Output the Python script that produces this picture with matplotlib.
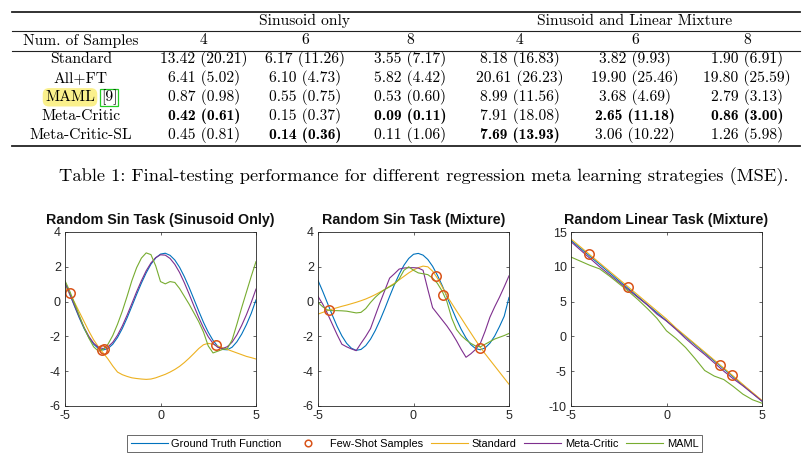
import numpy as np
import matplotlib.pyplot as plt
from matplotlib.lines import Line2D

W, H = 810, 461

plt.rcParams['axes.unicode_minus'] = False

# ---- table data ----
group_names = ["Sinusoid only", "Sinusoid and Linear Mixture"]
num_samples = ["4", "6", "8", "4", "6", "8"]
methods = ["Standard", "All+FT", "MAML", "Meta-Critic", "Meta-Critic-SL"]
mse_mean = [
    [13.42, 6.17, 3.55, 8.18, 3.82, 1.90],
    [6.41, 6.10, 5.82, 20.61, 19.90, 19.80],
    [0.87, 0.55, 0.53, 8.99, 3.68, 2.79],
    [0.42, 0.15, 0.09, 7.91, 2.65, 0.86],
    [0.45, 0.14, 0.11, 7.69, 3.06, 1.26],
]
mse_std = [
    [20.21, 11.26, 7.17, 16.83, 9.93, 6.91],
    [5.02, 4.73, 4.42, 26.23, 25.46, 25.59],
    [0.98, 0.75, 0.60, 11.56, 4.69, 3.13],
    [0.61, 0.37, 0.11, 18.08, 11.18, 3.00],
    [0.81, 0.36, 1.06, 13.93, 10.22, 5.98],
]
# (row, col) of the best result in each column
best_cells = [(3, 0), (4, 1), (3, 2), (4, 3), (3, 4), (3, 5)]
caption = "Table 1: Final-testing performance for different regression meta learning strategies (MSE)."

# ---- curve data ----
x_sin = np.linspace(-5, 5, 41)
x_lin = np.linspace(-5, 5, 21)

# panel 1: random sin task (sinusoid only)
p1_truth = [1.06, 0.41, -0.27, -0.94, -1.55, -2.06, -2.45, -2.70, -2.78, -2.70,
            -2.45, -2.06, -1.55, -0.94, -0.27, 0.41, 1.06, 1.65, 2.15, 2.51,
            2.73, 2.78, 2.66, 2.39, 1.97, 1.43, 0.81, 0.14, -0.54, -1.19,
            -1.76, -2.23, -2.57, -2.75, -2.77, -2.62, -2.31, -1.87, -1.32, -0.68,
            0.10]
p1_standard = [0.85, 0.45, -0.05, -0.60, -1.15, -1.70, -2.20, -2.60, -2.95, -3.30,
               -3.70, -4.05, -4.20, -4.30, -4.38, -4.42, -4.45, -4.47, -4.45, -4.38,
               -4.28, -4.18, -4.05, -3.90, -3.72, -3.50, -3.25, -2.98, -2.70, -2.48,
               -2.40, -2.45, -2.55, -2.65, -2.75, -2.85, -2.95, -3.05, -3.15, -3.22,
               -3.30]
p1_critic = [1.11, 0.46, -0.22, -0.88, -1.49, -2.00, -2.39, -2.63, -2.70, -2.60,
             -2.34, -1.93, -1.40, -0.78, -0.11, 0.57, 1.20, 1.77, 2.22, 2.53,
             2.69, 2.67, 2.48, 2.14, 1.67, 1.08, 0.43, -0.25, -0.91, -1.51,
             -2.02, -2.40, -2.63, -2.70, -2.59, -2.33, -1.91, -1.37, -0.75, -0.05,
             0.72]
p1_maml = [1.20, 0.60, -0.10, -0.80, -1.50, -2.10, -2.60, -2.85, -2.75, -2.45,
           -1.95, -1.30, -0.55, 0.30, 1.20, 1.95, 2.50, 2.80, 2.70, 2.05,
           1.15, 1.02, 1.15, 1.10, 0.75, 0.30, -0.15, -0.65, -1.15, -1.75,
           -2.55, -2.95, -2.85, -2.75, -2.70, -2.20, -1.30, -0.35, 0.55, 1.45,
           2.30]
p1_samples_x = [-4.75, -3.05, -2.95, 2.92]
p1_samples_y = [0.52, -2.78, -2.72, -2.50]

# panel 2: random sin task (mixture)
p2_truth = [1.22, 0.58, -0.10, -0.78, -1.42, -1.97, -2.40, -2.68, -2.80, -2.75,
            -2.53, -2.16, -1.66, -1.06, -0.40, 0.30, 0.97, 1.57, 2.09, 2.48,
            2.72, 2.77, 2.67, 2.42, 2.03, 1.52, 0.93, 0.28, -0.38, -1.02,
            -1.60, -2.09, -2.47, -2.70, -2.77, -2.66, -2.39, -1.98, -1.44, -0.84,
            0.24]
p2_standard = [-0.72, -0.62, -0.52, -0.43, -0.35, -0.27, -0.20, -0.12, -0.04, 0.05,
               0.15, 0.27, 0.40, 0.55, 0.70, 0.88, 1.05, 1.25, 1.45, 1.65,
               1.82, 1.95, 2.04, 2.00, 1.75, 1.35, 0.85, 0.33, -0.10, -0.53,
               -0.95, -1.38, -1.80, -2.22, -2.63, -3.00, -3.35, -3.70, -4.05, -4.40,
               -4.75]
p2_critic = [0.30, -0.15, -0.70, -1.30, -1.90, -2.45, -2.60, -2.72, -2.82, -2.40,
             -2.00, -1.55, -0.80, -0.05, 0.65, 1.35, 1.60, 1.87, 1.93, 1.95,
             1.95, 1.93, 1.80, 0.70, -0.35, -0.70, -1.05, -1.40, -1.80, -2.25,
             -2.75, -3.20, -3.00, -2.75, -2.40, -1.70, -0.90, -0.30, 0.25, 0.85,
             1.48]
p2_maml = [-0.05, -0.30, -0.48, -0.52, -0.52, -0.53, -0.55, -0.60, -0.65, -0.62,
           -0.40, -0.05, 0.25, 0.50, 0.70, 0.85, 1.00, 1.30, 1.80, 2.00,
           1.80, 1.65, 1.60, 1.55, 1.35, 1.05, 0.60, 0.00, -0.95, -1.60,
           -1.95, -2.20, -2.40, -2.55, -2.60, -2.45, -2.30, -2.15, -2.05, -1.95,
           -1.83]
p2_samples_x = [-4.40, 1.17, 1.56, 3.50]
p2_samples_y = [-0.50, 1.48, 0.39, -2.64]

# panel 3: random linear task (mixture)
p3_truth = [13.80, 12.65, 11.49, 10.34, 9.18, 8.03, 6.87, 5.72, 4.56, 3.41,
            2.25, 1.10, -0.06, -1.22, -2.37, -3.53, -4.68, -5.84, -6.99, -8.15,
            -9.30]
p3_standard = [14.00, 12.85, 11.70, 10.55, 9.40, 8.25, 7.10, 5.95, 4.80, 3.65,
               2.50, 1.20, 0.05, -1.10, -2.25, -3.40, -4.55, -5.70, -6.90, -8.05,
               -9.20]
p3_critic = [13.60, 12.40, 11.20, 10.00, 8.90, 7.80, 6.70, 5.60, 4.50, 3.20,
             2.20, 1.00, -0.30, -1.50, -2.60, -3.80, -5.00, -6.10, -7.10, -8.20,
             -9.30]
p3_maml = [11.40, 10.80, 10.20, 9.70, 8.70, 7.60, 6.50, 5.30, 4.00, 2.60,
           0.80, -0.30, -1.60, -3.20, -4.90, -5.70, -6.20, -7.20, -8.30, -9.10,
           -9.60]
p3_samples_x = [-4.05, -2.00, 2.81, 3.42]
p3_samples_y = [11.83, 7.04, -4.14, -5.58]

c_truth = '#0072BD'
c_samp = '#D95319'
c_std = '#EDB120'
c_critic = '#7E2F8E'
c_maml = '#77AC30'


def fx(px):
    return px / W


def fy(py):
    return 1 - py / H


fig = plt.figure(figsize=(W / 100, H / 100), dpi=100)

# ---- table ----
serif = 'cmr10'
serif_bold = 'cmb10'
tsize = 11.2
col_x = [81, 204, 305, 410, 520, 635, 747]
row_y = [59.3, 78.3, 97.3, 116.2, 135.2]

fig.text(fx(col_x[2]), fy(21), group_names[0], ha='center', va='center',
         family=serif, fontsize=tsize)
fig.text(fx(col_x[5]), fy(21), group_names[1], ha='center', va='center',
         family=serif, fontsize=tsize)
fig.text(fx(col_x[0]), fy(40.5), "Num. of Samples", ha='center', va='center',
         family=serif, fontsize=tsize)
for j, n in enumerate(num_samples):
    fig.text(fx(col_x[j + 1]), fy(40.5), n, ha='center', va='center',
             family=serif, fontsize=tsize)

for i, m in enumerate(methods):
    if m == "MAML":
        fig.text(fx(70), fy(row_y[i]), m, ha='center', va='center',
                 family=serif, fontsize=tsize,
                 bbox=dict(boxstyle='round,pad=0.15,rounding_size=0.4',
                           fc='#faf08c', ec='none'))
        fig.text(fx(109), fy(row_y[i]), "[9]", ha='center', va='center',
                 family=serif, fontsize=tsize,
                 bbox=dict(boxstyle='square,pad=0.05', fc='none',
                           ec='#22cc22', lw=0.9))
    else:
        fig.text(fx(col_x[0]), fy(row_y[i]), m, ha='center', va='center',
                 family=serif, fontsize=tsize)
    for j in range(6):
        s = f"{mse_mean[i][j]:.2f} ({mse_std[i][j]:.2f})"
        fam = serif_bold if (i, j) in best_cells else serif
        fig.text(fx(col_x[j + 1]), fy(row_y[i]), s, ha='center', va='center',
                 family=fam, fontsize=tsize)

for yy, lw in [(11.7, 1.3), (31, 0.8), (51, 0.8), (145.7, 1.3)]:
    fig.add_artist(Line2D([fx(12), fx(800)], [fy(yy), fy(yy)], color='#222222',
                          lw=lw, transform=fig.transFigure))

fig.text(fx(423.5), fy(177), caption, ha='center', va='center',
         family=serif, fontsize=13.3)

# ---- plots ----
plt.rcParams['font.family'] = ['Liberation Sans', 'DejaVu Sans']

panels = [
    ("Random Sin Task (Sinusoid Only)", 65, x_sin, p1_truth, p1_standard, p1_critic, p1_maml,
     p1_samples_x, p1_samples_y, (-6, 4), [-6, -4, -2, 0, 2, 4]),
    ("Random Sin Task (Mixture)", 318, x_sin, p2_truth, p2_standard, p2_critic, p2_maml,
     p2_samples_x, p2_samples_y, (-6, 4), [-6, -4, -2, 0, 2, 4]),
    ("Random Linear Task (Mixture)", 571, x_lin, p3_truth, p3_standard, p3_critic, p3_maml,
     p3_samples_x, p3_samples_y, (-10, 15), [-10, -5, 0, 5, 10, 15]),
]

handles = None
for title, left, xs, truth, std, critic, maml, sx, sy, ylim, yt in panels:
    ax = fig.add_axes([fx(left), fy(406), 191 / W, 174 / H])
    h1, = ax.plot(xs, truth, color=c_truth, lw=0.8)
    h3, = ax.plot(xs, std, color=c_std, lw=0.8)
    h4, = ax.plot(xs, critic, color=c_critic, lw=0.8)
    h5, = ax.plot(xs, maml, color=c_maml, lw=0.8)
    h2, = ax.plot(sx, sy, 'o', mfc='none', mec=c_samp, mew=1.1, ms=6.8)
    ax.set_xlim(-5, 5)
    ax.set_ylim(*ylim)
    ax.set_xticks([-5, 0, 5])
    ax.set_yticks(yt)
    ax.set_title(title, fontsize=10.3, fontweight='bold', pad=5.5, color='#111111')
    ax.tick_params(direction='in', top=True, right=True, length=2.5, width=0.5,
                   labelsize=9, colors='#262626', pad=3)
    for sp in ax.spines.values():
        sp.set_color('#262626')
        sp.set_linewidth(0.6)
    if handles is None:
        handles = [h1, h2, h3, h4, h5]

labels = ["Ground Truth Function", "Few-Shot Samples", "Standard", "Meta-Critic", "MAML"]
leg = fig.legend(handles, labels, loc='center', bbox_to_anchor=(fx(414.5), fy(443.5)),
                 ncol=5, frameon=True, fancybox=False, fontsize=7.95,
                 handlelength=3.35, columnspacing=0.68, handletextpad=0.35,
                 borderpad=0.3, borderaxespad=0, markerscale=0.7)
leg.get_frame().set_edgecolor('#262626')
leg.get_frame().set_linewidth(0.6)

fig.savefig('out.png', dpi=100)
